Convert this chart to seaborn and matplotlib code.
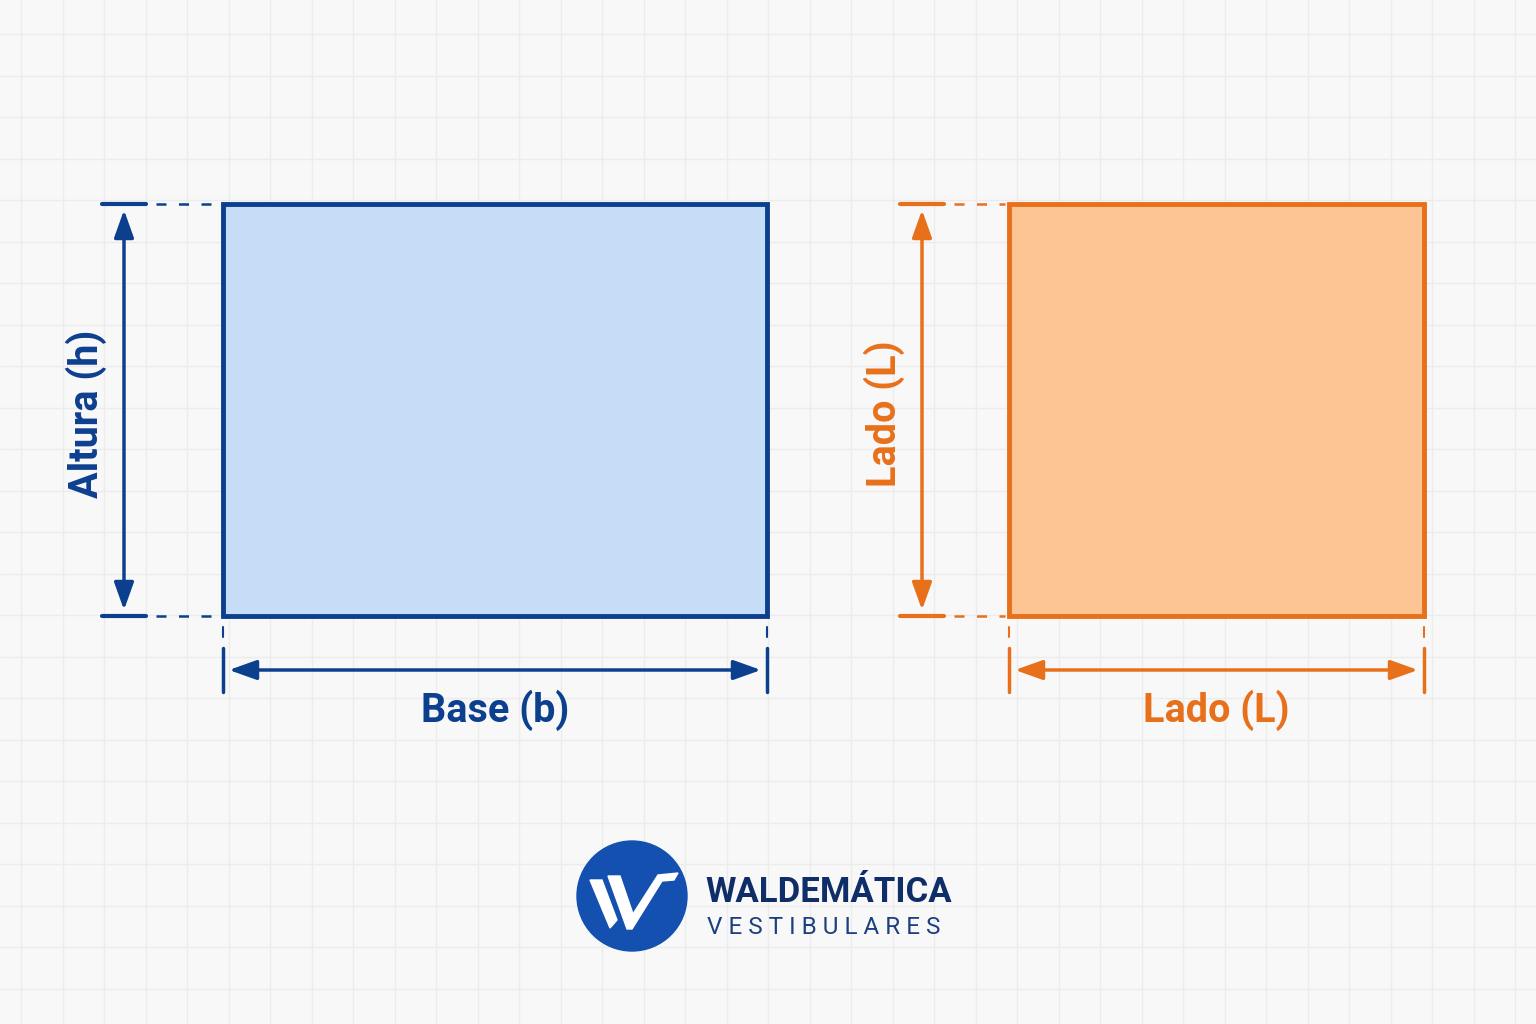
import matplotlib
matplotlib.use("Agg")
import matplotlib.pyplot as plt
import seaborn as sns
import numpy as np
from matplotlib.patches import Rectangle, Circle, Polygon

sns.set_theme(style="white")
plt.rcParams['font.family'] = ['Roboto', 'DejaVu Sans']

# shapes: [x0, y0, x1, y1] in pixel coords
shape_names = ["Retângulo", "Quadrado"]
shape_boxes = [[223, 204, 767, 616], [1009, 204, 1424, 616]]
edge_colors = ["#0d3f8f", "#e8701a"]
fill_colors = ["#c5ddf6", "#fdc593"]
side_labels = ["Altura (h)", "Lado (L)"]
bottom_labels = ["Base (b)", "Lado (L)"]
vert_arrow_x = [124, 922]

fig = plt.figure(figsize=(15.36, 10.24), dpi=100)
ax = fig.add_axes([0, 0, 1, 1])
ax.set_xlim(0, 1536); ax.set_ylim(1024, 0); ax.axis("off")
fig.patch.set_facecolor("#f8f8f8")
for gx in np.arange(21, 1536, 41.5):
    ax.axvline(gx, color="#ececec", lw=1, zorder=0)
for gy in np.arange(34, 1024, 41.5):
    ax.axhline(gy, color="#ececec", lw=1, zorder=0)

for (x0, y0, x1, y1), ec, fc, sl, bl, ax_x in zip(shape_boxes, edge_colors, fill_colors, side_labels, bottom_labels, vert_arrow_x):
    ax.add_patch(Rectangle((x0, y0), x1 - x0, y1 - y0, fc=fc, ec=ec, lw=3.5, zorder=2))
    for y in (y0, y1):
        ax.plot([ax_x - 22, ax_x + 22], [y, y], color=ec, lw=3, solid_capstyle="round", zorder=3)
        ax.plot([ax_x + 32, x0 - 4], [y, y], color=ec, lw=1.8, ls=(0, (4, 5)), zorder=3)
    ax.annotate("", xy=(ax_x, y0 + 6), xytext=(ax_x, y1 - 6),
                arrowprops=dict(arrowstyle="<|-|>,head_length=1.4,head_width=0.5", color=ec, lw=2.5, shrinkA=0, shrinkB=0))
    ax.text(ax_x - 38, (y0 + y1) / 2 + 4, sl, rotation=90, ha="center", va="center",
            color=ec, fontsize=28.5, fontweight="bold")
    for x in (x0, x1):
        ax.plot([x, x], [627, 637], color=ec, lw=1.5, zorder=3)
        ax.plot([x, x], [648, 692], color=ec, lw=2.5, zorder=3)
    ax.annotate("", xy=(x0 + 6, 670), xytext=(x1 - 6, 670),
                arrowprops=dict(arrowstyle="<|-|>,head_length=1.4,head_width=0.5", color=ec, lw=2.5, shrinkA=0, shrinkB=0))
    ax.text((x0 + x1) / 2, 710, bl, ha="center", va="center", color=ec, fontsize=28.5, fontweight="bold")

# logo
ax.add_patch(Circle((632, 896), 55, color="#1350b0", zorder=3))
ax.add_patch(Polygon([[590, 880], [602, 880], [617, 920], [610, 928]], color="white", zorder=4))
ax.add_patch(Polygon([[608, 876], [620, 876], [633, 914], [658, 875], [678, 873], [674, 880], [662, 881], [632, 929], [627, 929]], color="white", zorder=4))
ax.text(705, 893, "WALDEMÁTICA", ha="left", va="center", color="#0f2d66", fontsize=25, fontweight="bold")
ax.text(707, 928, "V E S T I B U L A R E S", ha="left", va="center", color="#1c3f7e", fontsize=17.5)

fig.savefig("out.png", dpi=100, facecolor=fig.get_facecolor())
